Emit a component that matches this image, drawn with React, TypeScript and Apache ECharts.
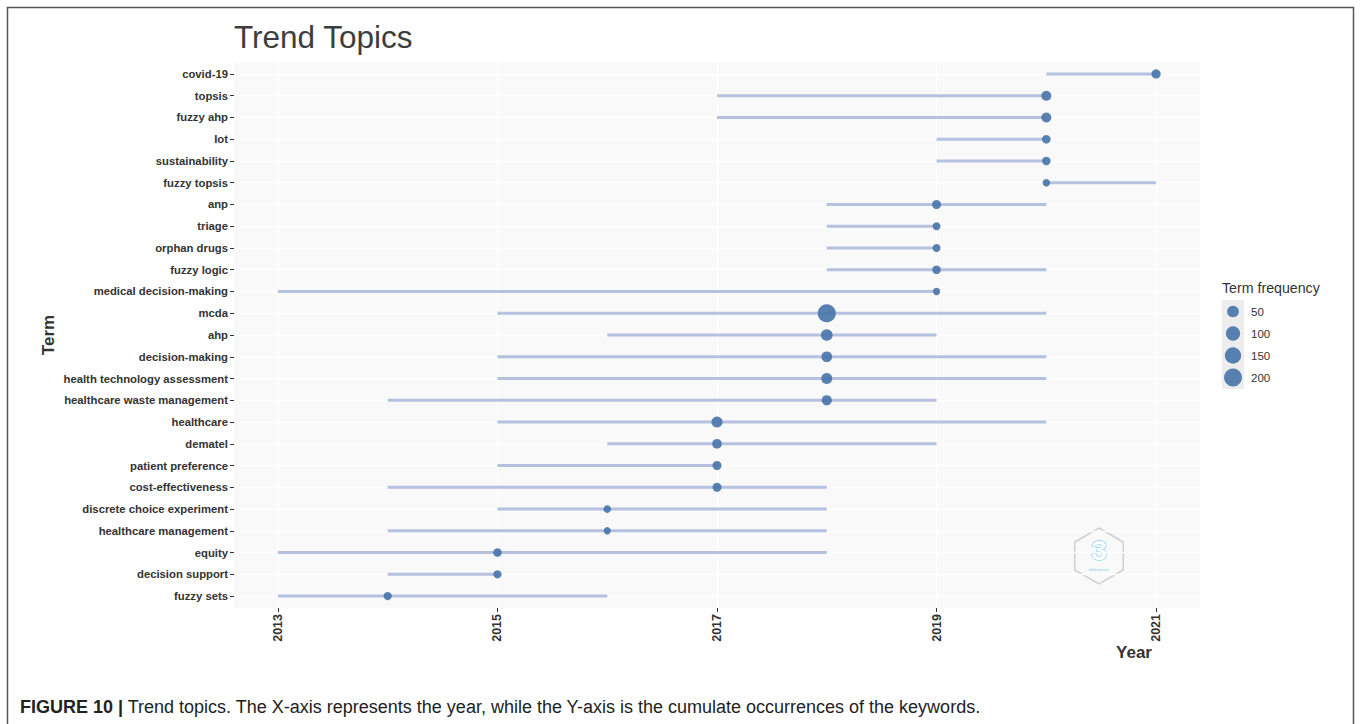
import React, { useEffect, useRef } from "react";
import * as echarts from "echarts";

const terms = [
  "covid-19", "topsis", "fuzzy ahp", "Iot", "sustainability", "fuzzy topsis",
  "anp", "triage", "orphan drugs", "fuzzy logic", "medical decision-making",
  "mcda", "ahp", "decision-making", "health technology assessment",
  "healthcare waste management", "healthcare", "dematel", "patient preference",
  "cost-effectiveness", "discrete choice experiment", "healthcare management",
  "equity", "decision support", "fuzzy sets",
];
const startYear = [2020, 2017, 2017, 2019, 2019, 2020, 2018, 2018, 2018, 2018, 2013, 2015, 2016, 2015, 2015, 2014, 2015, 2016, 2015, 2014, 2015, 2014, 2013, 2014, 2013];
const endYear = [2021, 2020, 2020, 2020, 2020, 2021, 2020, 2019, 2019, 2020, 2019, 2020, 2019, 2020, 2020, 2019, 2020, 2019, 2017, 2018, 2018, 2018, 2018, 2015, 2016];
const medianYear = [2021, 2020, 2020, 2020, 2020, 2020, 2019, 2019, 2019, 2019, 2019, 2018, 2018, 2018, 2018, 2018, 2017, 2017, 2017, 2017, 2016, 2016, 2015, 2015, 2014];
const frequency = [18, 26, 26, 12, 12, 5, 16, 8, 8, 12, 4, 205, 50, 35, 39, 28, 40, 22, 16, 16, 6, 4, 12, 10, 10];
const yearTicks = [2013, 2015, 2017, 2019, 2021];
const legendValues = [50, 100, 150, 200];

const DOT = "#4a76aa";
const SEG = "#b6c0df";
const FONT = "'Liberation Sans', Arial, sans-serif";

const sizeOf = (f: number) => 5.5 + 0.88 * Math.sqrt(f);

export default function App() {
  const ref = useRef<HTMLDivElement>(null);
  useEffect(() => {
    document.body.style.margin = "0";
    const chart = echarts.init(ref.current!, undefined, { renderer: "svg" });
    const idx = terms.map((_, i) => i);

    const hexC = [1099, 556];
    const R = 28;
    const hexPts = [0, 1, 2, 3, 4, 5].map((k) => {
      const a = ((-90 + 60 * k) * Math.PI) / 180;
      return [hexC[0] + R * Math.cos(a), hexC[1] + R * Math.sin(a)];
    });

    const legendTop = 311.5;
    const legendStep = 22;

    const option: any = {
      animation: false,
      textStyle: { fontFamily: FONT },
      grid: {
        left: 234, right: 160, top: 62, bottom: 116,
        show: true, backgroundColor: "#f9f9f9", borderWidth: 0,
      },
      xAxis: {
        type: "value", min: 2012.6, max: 2021.4,
        axisLine: { show: false, onZero: false },
        axisTick: { show: true, customValues: yearTicks, length: 4, lineStyle: { color: "#333", width: 1 } },
        axisLabel: {
          customValues: yearTicks, rotate: 90, margin: 6,
          color: "#333", fontWeight: "bold", fontSize: 12.5, fontFamily: FONT,
          formatter: (v: number) => String(v),
        },
        splitLine: { show: true, lineStyle: { color: "#ffffff", width: 1.3 } },
      },
      yAxis: {
        type: "value", inverse: true, min: -0.55, max: terms.length - 0.45,
        axisLine: { show: false, onZero: false },
        axisTick: { show: true, customValues: idx, length: 4, lineStyle: { color: "#333", width: 1 } },
        axisLabel: {
          customValues: idx, margin: 6, color: "#333", fontWeight: "bold", fontSize: 11.3, fontFamily: FONT,
          formatter: (v: number) => terms[Math.round(v)] ?? "",
        },
        splitLine: { show: true, lineStyle: { color: "#ffffff", width: 1.3 } },
      },
      series: [
        {
          type: "custom",
          encode: { x: [0, 1], y: 2 },
          data: terms.map((_, i) => [startYear[i], endYear[i], i]),
          renderItem: (params: any, api: any) => {
            const p1 = api.coord([api.value(0), api.value(2)]);
            const p2 = api.coord([api.value(1), api.value(2)]);
            return {
              type: "line",
              shape: { x1: p1[0], y1: p1[1], x2: p2[0], y2: p2[1] },
              style: { stroke: SEG, lineWidth: 3 },
            };
          },
          silent: true,
          z: 2,
        },
        {
          type: "scatter",
          data: terms.map((_, i) => [medianYear[i], i, frequency[i]]),
          symbolSize: (v: number[]) => sizeOf(v[2]),
          itemStyle: { color: DOT, opacity: 0.92 },
          z: 3,
        },
      ],
      graphic: [
        {
          type: "rect", silent: true,
          shape: { x: 7.5, y: 7.5, width: 1346, height: 740 },
          style: { fill: "none", stroke: "#555", lineWidth: 1.5 },
        },
        {
          type: "text", x: 234, y: 37,
          style: { text: "Trend Topics", font: `31.5px ${FONT}`, fill: "#3d3d3d", textVerticalAlign: "middle" },
        },
        {
          type: "text", x: 48, y: 335, rotation: Math.PI / 2,
          style: { text: "Term", font: `bold 17px ${FONT}`, fill: "#333", textAlign: "center", textVerticalAlign: "middle" },
        },
        {
          type: "text", x: 1134, y: 652,
          style: { text: "Year", font: `bold 17px ${FONT}`, fill: "#333", textAlign: "center", textVerticalAlign: "middle" },
        },
        {
          type: "text", x: 1222, y: 288,
          style: { text: "Term frequency", font: `14.2px ${FONT}`, fill: "#333", textVerticalAlign: "middle" },
        },
        {
          type: "rect",
          shape: { x: 1222, y: 300, width: 22, height: 89 },
          style: { fill: "#ededed" },
        },
        ...legendValues.map((v, k) => ({
          type: "circle",
          shape: { cx: 1233, cy: legendTop + k * legendStep, r: sizeOf(v) / 2 },
          style: { fill: DOT, opacity: 0.92 },
        })),
        ...legendValues.map((v, k) => ({
          type: "text", x: 1251, y: legendTop + k * legendStep,
          style: { text: String(v), font: `11.5px ${FONT}`, fill: "#333", textVerticalAlign: "middle" },
        })),
        {
          type: "polygon",
          shape: { points: hexPts },
          style: { fill: "none", stroke: "#cfcfcf", lineWidth: 1.5 },
        },
        {
          type: "text", x: hexC[0], y: hexC[1] - 6,
          style: { text: "3", font: `bold 28px ${FONT}`, fill: "#ffffff", stroke: "#8fd0f2", lineWidth: 1.4, textAlign: "center", textVerticalAlign: "middle" },
        },
        {
          type: "text", x: hexC[0], y: hexC[1] + 13,
          style: { text: "bibliometrix", font: `4px ${FONT}`, fill: "#8fd0f2", textAlign: "center", textVerticalAlign: "middle" },
        },
        {
          type: "text", x: 20, y: 707,
          style: {
            text: "{b|FIGURE 10 |} Trend topics. The X-axis represents the year, while the Y-axis is the cumulate occurrences of the keywords.",
            font: `18px ${FONT}`, fill: "#222", textVerticalAlign: "middle",
            rich: { b: { fontWeight: "bold", fontSize: 18, fontFamily: FONT, fill: "#222" } },
          },
        },
      ],
    };
    chart.setOption(option);
    return () => chart.dispose();
  }, []);
  return <div ref={ref} style={{ position: "absolute", left: 0, top: 0, width: 1360, height: 724 }} />;
}
